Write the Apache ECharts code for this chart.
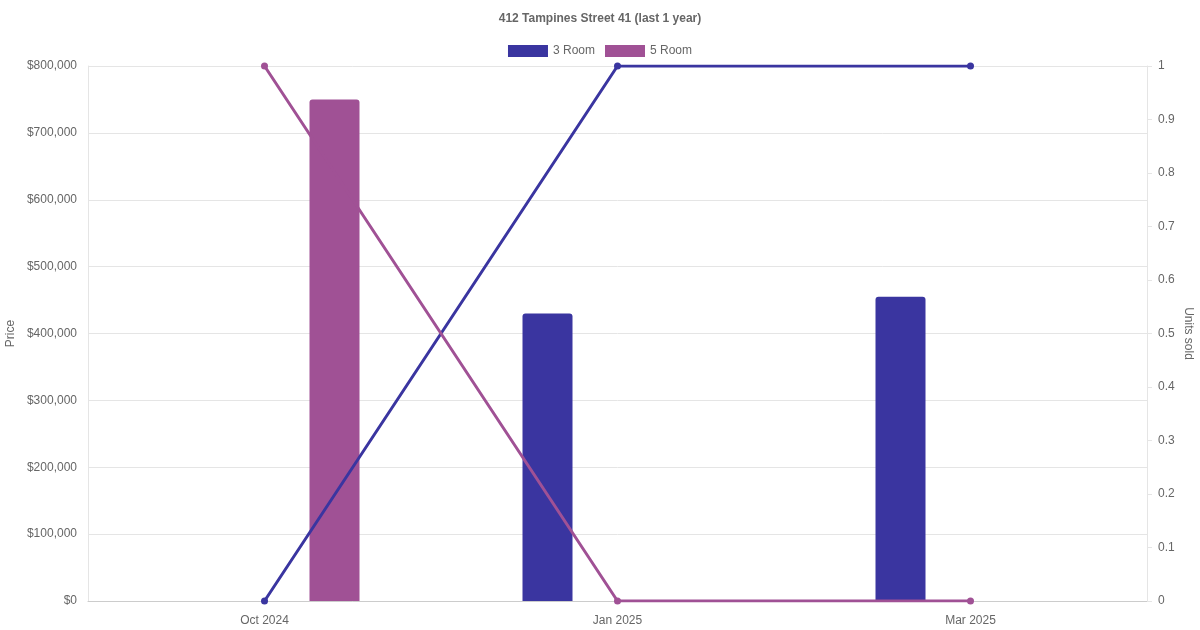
<!DOCTYPE html>
<html>
<head>
<meta charset="utf-8">
<script src="https://cdn.jsdelivr.net/npm/echarts@6/dist/echarts.min.js"></script>
<style>
html,body{margin:0;padding:0;background:#fff;}
#chart{width:1200px;height:630px;}
</style>
</head>
<body>
<div id="chart"></div>
<script>
const titleText = '412 Tampines Street 41 (last 1 year)';
const categories = ['Oct 2024', 'Jan 2025', 'Mar 2025'];
const price3Room = [null, 430000, 455000];
const price5Room = [750000, null, null];
const units3Room = [0, 1, 1];
const units5Room = [1, 0, 0];

const color3 = '#3a35a0';
const color5 = '#a05195';
const font = '"Liberation Sans", Arial, sans-serif';

const chart = echarts.init(document.getElementById('chart'));
chart.setOption({
  animation: false,
  textStyle: { fontFamily: font },
  title: {
    text: titleText,
    left: 'center',
    top: 8,
    textStyle: { fontFamily: font, fontSize: 12, fontWeight: 'bold', color: '#666' }
  },
  legend: {
    data: ['3 Room', '5 Room'],
    top: 40,
    left: 'center',
    icon: 'rect',
    itemWidth: 40,
    itemHeight: 12,
    itemGap: 10,
    textStyle: { fontFamily: font, fontSize: 12, color: '#666' }
  },
  grid: { left: 88, right: 53, top: 66, bottom: 29, containLabel: false, outerBoundsMode: 'none' },
  xAxis: {
    type: 'category',
    data: categories,
    boundaryGap: true,
    axisLine: { show: true, lineStyle: { color: '#ccc', width: 1 } },
    axisTick: { show: false },
    axisLabel: { color: '#666', fontSize: 12, margin: 14, fontFamily: font },
    splitLine: { show: false }
  },
  yAxis: [
    {
      type: 'value',
      min: 0, max: 800000, interval: 100000,
      name: 'Price',
      nameLocation: 'middle',
      nameRotate: 90,
      nameGap: 71,
      nameMoveOverlap: false,
      nameTextStyle: { color: '#666', fontSize: 12, fontFamily: font },
      axisLine: { show: true, lineStyle: { color: '#e5e5e5' } },
      axisTick: { show: false },
      axisLabel: {
        color: '#666', fontSize: 12, margin: 11, fontFamily: font,
        formatter: v => '$' + v.toLocaleString('en-US')
      },
      splitLine: { show: true, lineStyle: { color: '#e5e5e5', width: 1 } }
    },
    {
      type: 'value',
      min: 0, max: 1, interval: 0.1,
      position: 'right',
      name: 'Units sold',
      nameLocation: 'middle',
      nameRotate: -90,
      nameGap: 35,
      nameMoveOverlap: false,
      nameTextStyle: { color: '#666', fontSize: 12, fontFamily: font },
      axisLine: { show: true, lineStyle: { color: '#e5e5e5' } },
      axisTick: { show: true, length: 5, lineStyle: { color: '#e5e5e5' } },
      axisLabel: {
        color: '#666', fontSize: 12, margin: 11, fontFamily: font,
        formatter: v => String(Math.round(v * 10) / 10)
      },
      splitLine: { show: false }
    }
  ],
  series: [
    {
      name: '3 Room', type: 'bar', yAxisIndex: 0,
      data: price3Room, barWidth: 50, barGap: '180%',
      itemStyle: { color: color3, borderRadius: [3, 3, 0, 0] },
      z: 2
    },
    {
      name: '5 Room', type: 'bar', yAxisIndex: 0,
      data: price5Room, barWidth: 50, barGap: '180%',
      itemStyle: { color: color5, borderRadius: [3, 3, 0, 0] },
      z: 2
    },
    {
      name: '3 Room', type: 'line', yAxisIndex: 1,
      data: units3Room, symbol: 'circle', symbolSize: 7, showSymbol: true,
      lineStyle: { color: color3, width: 3 }, itemStyle: { color: color3 },
      z: 5
    },
    {
      name: '5 Room', type: 'line', yAxisIndex: 1,
      data: units5Room, symbol: 'circle', symbolSize: 7, showSymbol: true,
      lineStyle: { color: color5, width: 3 }, itemStyle: { color: color5 },
      z: 5
    }
  ]
});
</script>
</body>
</html>
